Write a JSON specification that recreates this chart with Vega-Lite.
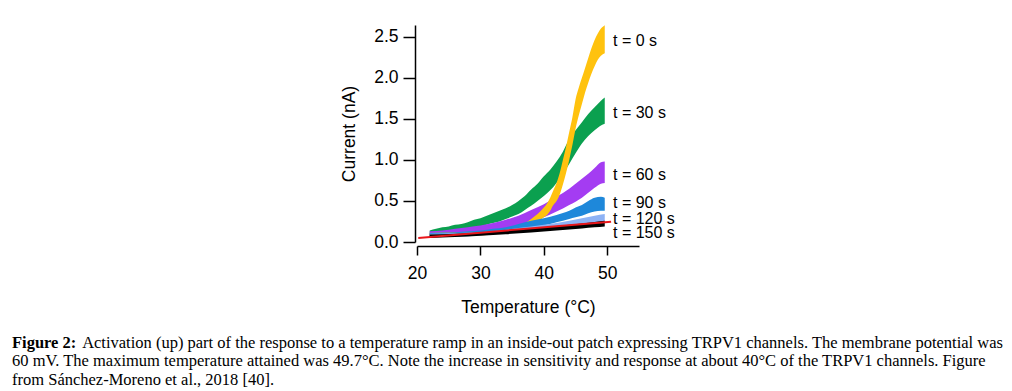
{
  "$schema": "https://vega.github.io/schema/vega-lite/v6.json",
  "width": 222,
  "height": 217,
  "autosize": {"type": "none"},
  "padding": {"left": 417, "top": 25, "right": 373, "bottom": 149},
  "background": "white",
  "config": {"view": {"stroke": null}, "font": "Liberation Sans"},
  "title": {
    "text": "Figure 2:",
    "subtitle": [
      "\u200b\u2003\u2003\u2003\u2003\u00a0Activation (up) part of the response to a temperature ramp in an inside-out patch expressing TRPV1 channels. The membrane potential was",
      "60 mV. The maximum temperature attained was 49.7°C. Note the increase in sensitivity and response at about 40°C of the TRPV1 channels. Figure",
      "from Sánchez-Moreno et al., 2018 [40]."
    ],
    "orient": "bottom",
    "anchor": "start",
    "frame": "group",
    "dx": -405,
    "offset": 19,
    "font": "Liberation Serif",
    "fontSize": 16.5,
    "fontWeight": "bold",
    "color": "black",
    "subtitleFont": "Liberation Serif",
    "subtitleFontSize": 16.5,
    "subtitleColor": "black",
    "subtitleLineHeight": 18.3,
    "subtitlePadding": -16.5
  },
  "datasets": {
    "bands": [
      {"s": "0", "T": 22, "lo": 0.06, "hi": 0.11},
      {"s": "0", "T": 24, "lo": 0.065, "hi": 0.115},
      {"s": "0", "T": 26, "lo": 0.07, "hi": 0.12},
      {"s": "0", "T": 28, "lo": 0.075, "hi": 0.125},
      {"s": "0", "T": 30, "lo": 0.08, "hi": 0.13},
      {"s": "0", "T": 32, "lo": 0.09, "hi": 0.14},
      {"s": "0", "T": 34, "lo": 0.11, "hi": 0.16},
      {"s": "0", "T": 35, "lo": 0.12, "hi": 0.18},
      {"s": "0", "T": 36, "lo": 0.14, "hi": 0.2},
      {"s": "0", "T": 37, "lo": 0.17, "hi": 0.23},
      {"s": "0", "T": 38, "lo": 0.2, "hi": 0.28},
      {"s": "0", "T": 39, "lo": 0.24, "hi": 0.34},
      {"s": "0", "T": 40, "lo": 0.3, "hi": 0.42},
      {"s": "0", "T": 40.5, "lo": 0.33, "hi": 0.47},
      {"s": "0", "T": 41, "lo": 0.38, "hi": 0.54},
      {"s": "0", "T": 41.5, "lo": 0.45, "hi": 0.63},
      {"s": "0", "T": 42, "lo": 0.5, "hi": 0.72},
      {"s": "0", "T": 42.5, "lo": 0.58, "hi": 0.84},
      {"s": "0", "T": 43, "lo": 0.7, "hi": 1.0},
      {"s": "0", "T": 43.5, "lo": 0.84, "hi": 1.16},
      {"s": "0", "T": 44, "lo": 1.0, "hi": 1.34},
      {"s": "0", "T": 44.5, "lo": 1.18, "hi": 1.52},
      {"s": "0", "T": 45, "lo": 1.38, "hi": 1.74},
      {"s": "0", "T": 45.5, "lo": 1.54, "hi": 1.88},
      {"s": "0", "T": 46, "lo": 1.68, "hi": 2.0},
      {"s": "0", "T": 46.5, "lo": 1.82, "hi": 2.12},
      {"s": "0", "T": 47, "lo": 1.94, "hi": 2.24},
      {"s": "0", "T": 47.5, "lo": 2.05, "hi": 2.36},
      {"s": "0", "T": 48, "lo": 2.14, "hi": 2.46},
      {"s": "0", "T": 48.5, "lo": 2.22, "hi": 2.54},
      {"s": "0", "T": 49, "lo": 2.27, "hi": 2.6},
      {"s": "0", "T": 49.6, "lo": 2.3, "hi": 2.64},

      {"s": "30", "T": 22, "lo": 0.08, "hi": 0.14},
      {"s": "30", "T": 23, "lo": 0.09, "hi": 0.16},
      {"s": "30", "T": 24, "lo": 0.1, "hi": 0.18},
      {"s": "30", "T": 25, "lo": 0.11, "hi": 0.19},
      {"s": "30", "T": 26, "lo": 0.12, "hi": 0.21},
      {"s": "30", "T": 27, "lo": 0.13, "hi": 0.22},
      {"s": "30", "T": 28, "lo": 0.15, "hi": 0.24},
      {"s": "30", "T": 29, "lo": 0.17, "hi": 0.27},
      {"s": "30", "T": 30, "lo": 0.19, "hi": 0.29},
      {"s": "30", "T": 31, "lo": 0.21, "hi": 0.32},
      {"s": "30", "T": 32, "lo": 0.23, "hi": 0.35},
      {"s": "30", "T": 33, "lo": 0.25, "hi": 0.38},
      {"s": "30", "T": 34, "lo": 0.28, "hi": 0.41},
      {"s": "30", "T": 35, "lo": 0.31, "hi": 0.45},
      {"s": "30", "T": 36, "lo": 0.34, "hi": 0.5},
      {"s": "30", "T": 37, "lo": 0.39, "hi": 0.56},
      {"s": "30", "T": 38, "lo": 0.44, "hi": 0.64},
      {"s": "30", "T": 39, "lo": 0.5, "hi": 0.71},
      {"s": "30", "T": 40, "lo": 0.56, "hi": 0.8},
      {"s": "30", "T": 41, "lo": 0.63, "hi": 0.88},
      {"s": "30", "T": 42, "lo": 0.72, "hi": 0.98},
      {"s": "30", "T": 43, "lo": 0.83, "hi": 1.1},
      {"s": "30", "T": 44, "lo": 0.95, "hi": 1.25},
      {"s": "30", "T": 45, "lo": 1.08, "hi": 1.36},
      {"s": "30", "T": 46, "lo": 1.2, "hi": 1.46},
      {"s": "30", "T": 47, "lo": 1.29, "hi": 1.56},
      {"s": "30", "T": 48, "lo": 1.36, "hi": 1.64},
      {"s": "30", "T": 49, "lo": 1.42, "hi": 1.72},
      {"s": "30", "T": 49.6, "lo": 1.44, "hi": 1.76},

      {"s": "60", "T": 22, "lo": 0.07, "hi": 0.13},
      {"s": "60", "T": 24, "lo": 0.08, "hi": 0.14},
      {"s": "60", "T": 26, "lo": 0.09, "hi": 0.16},
      {"s": "60", "T": 28, "lo": 0.1, "hi": 0.18},
      {"s": "60", "T": 30, "lo": 0.12, "hi": 0.2},
      {"s": "60", "T": 32, "lo": 0.14, "hi": 0.23},
      {"s": "60", "T": 34, "lo": 0.17, "hi": 0.27},
      {"s": "60", "T": 36, "lo": 0.2, "hi": 0.32},
      {"s": "60", "T": 38, "lo": 0.24, "hi": 0.39},
      {"s": "60", "T": 40, "lo": 0.3, "hi": 0.46},
      {"s": "60", "T": 42, "lo": 0.37, "hi": 0.55},
      {"s": "60", "T": 44, "lo": 0.45, "hi": 0.65},
      {"s": "60", "T": 46, "lo": 0.54, "hi": 0.77},
      {"s": "60", "T": 47, "lo": 0.6, "hi": 0.83},
      {"s": "60", "T": 48, "lo": 0.66, "hi": 0.9},
      {"s": "60", "T": 49, "lo": 0.71, "hi": 0.97},
      {"s": "60", "T": 49.6, "lo": 0.72, "hi": 0.98},

      {"s": "90", "T": 22, "lo": 0.06, "hi": 0.11},
      {"s": "90", "T": 24, "lo": 0.065, "hi": 0.115},
      {"s": "90", "T": 26, "lo": 0.07, "hi": 0.12},
      {"s": "90", "T": 28, "lo": 0.08, "hi": 0.13},
      {"s": "90", "T": 30, "lo": 0.09, "hi": 0.14},
      {"s": "90", "T": 32, "lo": 0.1, "hi": 0.16},
      {"s": "90", "T": 34, "lo": 0.12, "hi": 0.18},
      {"s": "90", "T": 36, "lo": 0.15, "hi": 0.22},
      {"s": "90", "T": 38, "lo": 0.18, "hi": 0.26},
      {"s": "90", "T": 40, "lo": 0.2, "hi": 0.29},
      {"s": "90", "T": 42, "lo": 0.24, "hi": 0.33},
      {"s": "90", "T": 44, "lo": 0.28, "hi": 0.38},
      {"s": "90", "T": 45, "lo": 0.3, "hi": 0.42},
      {"s": "90", "T": 46, "lo": 0.32, "hi": 0.45},
      {"s": "90", "T": 47, "lo": 0.35, "hi": 0.5},
      {"s": "90", "T": 48, "lo": 0.37, "hi": 0.54},
      {"s": "90", "T": 49, "lo": 0.38, "hi": 0.55},
      {"s": "90", "T": 49.6, "lo": 0.38, "hi": 0.54},

      {"s": "120", "T": 22, "lo": 0.06, "hi": 0.1},
      {"s": "120", "T": 26, "lo": 0.065, "hi": 0.11},
      {"s": "120", "T": 30, "lo": 0.08, "hi": 0.12},
      {"s": "120", "T": 33, "lo": 0.1, "hi": 0.14},
      {"s": "120", "T": 36, "lo": 0.12, "hi": 0.17},
      {"s": "120", "T": 40, "lo": 0.15, "hi": 0.21},
      {"s": "120", "T": 44, "lo": 0.19, "hi": 0.26},
      {"s": "120", "T": 46, "lo": 0.21, "hi": 0.29},
      {"s": "120", "T": 48, "lo": 0.23, "hi": 0.32},
      {"s": "120", "T": 49.6, "lo": 0.24, "hi": 0.34},

      {"s": "150", "T": 22, "lo": 0.05, "hi": 0.09},
      {"s": "150", "T": 26, "lo": 0.06, "hi": 0.1},
      {"s": "150", "T": 30, "lo": 0.075, "hi": 0.115},
      {"s": "150", "T": 34, "lo": 0.095, "hi": 0.14},
      {"s": "150", "T": 38, "lo": 0.115, "hi": 0.165},
      {"s": "150", "T": 42, "lo": 0.14, "hi": 0.195},
      {"s": "150", "T": 46, "lo": 0.165, "hi": 0.225},
      {"s": "150", "T": 48, "lo": 0.18, "hi": 0.245},
      {"s": "150", "T": 49.6, "lo": 0.19, "hi": 0.26}
    ],
    "fit": [
      {"T": 20.2, "I": 0.05},
      {"T": 50.6, "I": 0.247}
    ],
    "labels": [
      {"label": "t = 0 s", "T": 50.9, "I": 2.448},
      {"label": "t = 30 s", "T": 50.9, "I": 1.568},
      {"label": "t = 60 s", "T": 50.9, "I": 0.816},
      {"label": "t = 90 s", "T": 50.9, "I": 0.471},
      {"label": "t = 120 s", "T": 50.9, "I": 0.28},
      {"label": "t = 150 s", "T": 50.9, "I": 0.106}
    ]
  },
  "layer": [
    {
      "data": {"name": "bands"},
      "transform": [{"filter": "datum.s == '30'"}],
      "mark": {"type": "area", "color": "#0BA04F", "interpolate": "monotone"},
      "encoding": {
        "x": {
          "field": "T", "type": "quantitative",
          "scale": {"domain": [20, 55], "nice": false, "zero": false},
          "axis": {
            "title": "Temperature (°C)",
            "values": [20, 25, 30, 35, 40, 45, 50, 55],
            "labelExpr": "datum.value % 10 == 0 ? datum.label : ''",
            "format": "d",
            "offset": 4,
            "grid": false,
            "domainColor": "black",
            "domainWidth": 1.5,
            "tickColor": "black",
            "tickWidth": 1.5,
            "tickSize": {"condition": {"test": "datum.value % 10 != 0", "value": 4}, "value": 9},
            "labelFont": "Liberation Sans",
            "labelFontSize": 17.5,
            "labelColor": "black",
            "labelPadding": 9,
            "labelFlush": false,
            "labelOverlap": false,
            "titleFont": "Liberation Sans",
            "titleFontSize": 17.5,
            "titleFontWeight": "normal",
            "titleColor": "black",
            "titlePadding": 17
          }
        },
        "y": {
          "field": "lo", "type": "quantitative",
          "scale": {"domain": [0, 2.643], "nice": false},
          "axis": {
            "title": "Current (nA)",
            "values": [0, 0.5, 1, 1.5, 2, 2.5],
            "format": ".1f",
            "offset": 2,
            "grid": false,
            "domainColor": "black",
            "domainWidth": 1.5,
            "tickColor": "black",
            "tickWidth": 1.5,
            "tickSize": 12,
            "labelFont": "Liberation Sans",
            "labelFontSize": 17.5,
            "labelColor": "black",
            "labelPadding": 5,
            "labelFlush": false,
            "labelOverlap": false,
            "titleFont": "Liberation Sans",
            "titleFontSize": 17.5,
            "titleFontWeight": "normal",
            "titleColor": "black",
            "titlePadding": 15
          }
        },
        "y2": {"field": "hi"}
      }
    },
    {
      "data": {"name": "bands"},
      "transform": [{"filter": "datum.s == '60'"}],
      "mark": {"type": "area", "color": "#A43CF2", "interpolate": "monotone"},
      "encoding": {
        "x": {"field": "T", "type": "quantitative"},
        "y": {"field": "lo", "type": "quantitative"},
        "y2": {"field": "hi"}
      }
    },
    {
      "data": {"name": "bands"},
      "transform": [{"filter": "datum.s == '0'"}],
      "mark": {"type": "area", "color": "#FFC20E", "interpolate": "monotone"},
      "encoding": {
        "x": {"field": "T", "type": "quantitative"},
        "y": {"field": "lo", "type": "quantitative"},
        "y2": {"field": "hi"}
      }
    },
    {
      "data": {"name": "bands"},
      "transform": [{"filter": "datum.s == '90'"}],
      "mark": {"type": "area", "color": "#1E88DA", "interpolate": "monotone"},
      "encoding": {
        "x": {"field": "T", "type": "quantitative"},
        "y": {"field": "lo", "type": "quantitative"},
        "y2": {"field": "hi"}
      }
    },
    {
      "data": {"name": "bands"},
      "transform": [{"filter": "datum.s == '120'"}],
      "mark": {"type": "area", "color": "#8DB2F5", "interpolate": "monotone"},
      "encoding": {
        "x": {"field": "T", "type": "quantitative"},
        "y": {"field": "lo", "type": "quantitative"},
        "y2": {"field": "hi"}
      }
    },
    {
      "data": {"name": "bands"},
      "transform": [{"filter": "datum.s == '150'"}],
      "mark": {"type": "area", "color": "#000000", "interpolate": "monotone"},
      "encoding": {
        "x": {"field": "T", "type": "quantitative"},
        "y": {"field": "lo", "type": "quantitative"},
        "y2": {"field": "hi"}
      }
    },
    {
      "data": {"name": "fit"},
      "mark": {"type": "line", "color": "#E8161B", "strokeWidth": 2},
      "encoding": {
        "x": {"field": "T", "type": "quantitative"},
        "y": {"field": "I", "type": "quantitative"}
      }
    },
    {
      "data": {"name": "labels"},
      "mark": {"type": "text", "align": "left", "baseline": "middle", "font": "Liberation Sans", "fontSize": 16, "color": "black"},
      "encoding": {
        "x": {"field": "T", "type": "quantitative"},
        "y": {"field": "I", "type": "quantitative"},
        "text": {"field": "label"}
      }
    }
  ]
}
